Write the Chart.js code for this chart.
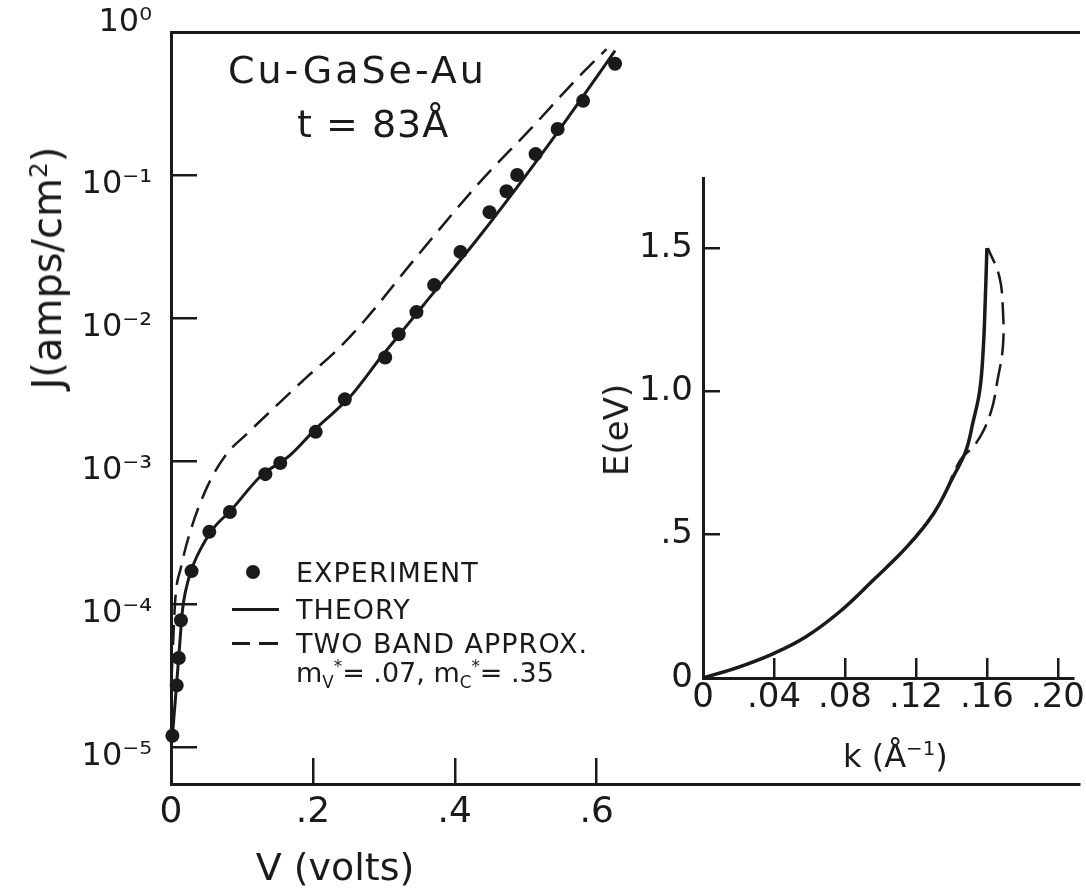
<!DOCTYPE html>
<html>
<head>
<meta charset="utf-8">
<script src="https://cdn.jsdelivr.net/npm/chart.js@4.4.1/dist/chart.umd.min.js"></script>
<style>
  html, body { margin: 0; padding: 0; background: #fff; }
  #wrap { position: relative; width: 1086px; height: 896px; overflow: hidden;
          font-family: 'DejaVu Sans', sans-serif; color: #1a1a1a; }
  #main { position: absolute; left: 0; top: 0; }
  #inset { position: absolute; left: 590px; top: 150px; }
  .txt { position: absolute; white-space: nowrap; line-height: 1; }
  .rot { transform: translate(-50%, -50%) rotate(-90deg); }
  .mark { position: absolute; background: #1a1a1a; }
  sub, sup { font-size: 62%; line-height: 0; }
</style>
</head>
<body>
<div id="wrap">
  <canvas id="main" width="1086" height="896"></canvas>
  <canvas id="inset" width="496" height="650"></canvas>

  <!-- sample annotation -->
  <div class="txt" style="left:228px; top:51px; font-size:38px; letter-spacing:3px;">Cu-GaSe-Au</div>
  <div class="txt" style="left:297px; top:105px; font-size:38px; letter-spacing:1px;">t = 83Å</div>

  <!-- legend -->
  <div class="mark" style="left:246px; top:565px; width:14px; height:14px; border-radius:50%;"></div>
  <div class="txt" style="left:296px; top:559px; font-size:27px; letter-spacing:1px;">EXPERIMENT</div>
  <div class="mark" style="left:232px; top:608px; width:47px; height:3px;"></div>
  <div class="txt" style="left:296px; top:596px; font-size:27px; letter-spacing:1px;">THEORY</div>
  <div class="mark" style="left:232px; top:642px; width:18px; height:2.5px;"></div>
  <div class="mark" style="left:259px; top:642px; width:19px; height:2.5px;"></div>
  <div class="txt" style="left:296px; top:630px; font-size:27px; letter-spacing:1px;">TWO BAND APPROX.</div>
  <div class="txt" style="left:296px; top:659px; font-size:27px;">m<sub>V</sub><sup>*</sup>= .07, m<sub>C</sub><sup>*</sup>= .35</div>

  <!-- axis titles -->
  <div class="txt" style="left:335px; top:848px; font-size:38px; transform:translateX(-50%);">V (volts)</div>
  <div class="txt rot" style="left:47px; top:268px; font-size:40px;">J(amps/cm<sup>2</sup>)</div>
  <div class="txt rot" style="left:616px; top:430px; font-size:34px;">E(eV)</div>
  <div class="txt" style="left:843px; top:740px; font-size:32px;">k (Å<sup>−1</sup>)</div>
</div>

<script>
const INK = '#1a1a1a';
const FONT = "'DejaVu Sans', sans-serif";

// ---- main panel: current density vs voltage ----
const expV = [0.002, 0.008, 0.011, 0.014, 0.029, 0.054, 0.083, 0.133, 0.154, 0.204, 0.245, 0.302,
              0.321, 0.346, 0.371, 0.408, 0.449, 0.473, 0.488, 0.514, 0.545, 0.581, 0.626];
const expJ = [1.2e-5, 2.7e-5, 4.2e-5, 7.7e-5, 1.7e-4, 3.2e-4, 4.4e-4, 8.1e-4, 9.7e-4, 1.6e-3, 2.7e-3, 5.3e-3,
              7.7e-3, 1.1e-2, 1.7e-2, 2.9e-2, 5.5e-2, 7.7e-2, 0.10, 0.14, 0.21, 0.33, 0.60];

const theoryV = [0.002, 0.008, 0.012, 0.016, 0.020, 0.030, 0.045, 0.060, 0.084, 0.126, 0.168,
                 0.205, 0.252, 0.297, 0.326, 0.354, 0.438, 0.531, 0.585, 0.626];
const theoryJ = [1.2e-5, 2.8e-5, 5.0e-5, 8.9e-5, 1.2e-4, 1.8e-4, 2.6e-4, 3.4e-4, 4.5e-4, 7.8e-4, 1.1e-3,
                 1.7e-3, 2.8e-3, 5.4e-3, 8.1e-3, 1.2e-2, 3.9e-2, 0.16, 0.38, 0.74];

const twoBandV = [0.001, 0.006, 0.014, 0.027, 0.051, 0.077, 0.107, 0.149, 0.191, 0.233, 0.272,
                  0.344, 0.437, 0.507, 0.572, 0.614];
const twoBandJ = [3.2e-5, 1.07e-4, 1.8e-4, 3.2e-4, 6.6e-4, 1.1e-3, 1.55e-3, 2.45e-3, 3.85e-3, 5.9e-3, 9.5e-3,
                  2.6e-2, 9.1e-2, 0.21, 0.47, 0.76];

const vTicks = [0, 0.2, 0.4, 0.6];
const vTickLabels = ['0', '.2', '.4', '.6'];
const jTicks = [1e-5, 1e-4, 1e-3, 1e-2, 1e-1, 1];
const jTickLabels = ['10⁻⁵', '10⁻⁴', '10⁻³', '10⁻²', '10⁻¹', '10⁰'];

// ---- inset: E vs k ----
const kTheory = [0, 0.021, 0.040, 0.058, 0.077, 0.096, 0.115, 0.130, 0.141, 0.148, 0.152, 0.156, 0.158, 0.159, 0.160];
const eTheory = [0, 0.04, 0.086, 0.144, 0.231, 0.342, 0.458, 0.574, 0.702, 0.79, 0.888, 1.005, 1.156, 1.307, 1.50];

const kTwoBand = [0, 0.021, 0.040, 0.058, 0.077, 0.094, 0.104, 0.118, 0.1335, 0.145, 0.154, 0.162, 0.166,
                  0.169, 0.169, 0.167, 0.1605];
const eTwoBand = [0, 0.04, 0.086, 0.144, 0.231, 0.33, 0.39, 0.48, 0.61, 0.76, 0.82, 0.923, 1.04,
                  1.156, 1.284, 1.40, 1.50];

const kTicks = [0, 0.04, 0.08, 0.12, 0.16, 0.20];
const kTickLabels = ['0', '.04', '.08', '.12', '.16', '.20'];
const eTicks = [0, 0.5, 1.0, 1.5];
const eTickLabels = ['0', '.5', '1.0', '1.5'];

function pts(xs, ys) {
  return xs.map((x, i) => ({ x: x, y: ys[i] }));
}
function fixedTicks(values) {
  return scale => { scale.ticks = values.map(v => ({ value: v })); };
}
// pin the axis box size and stop edge labels from shrinking the plot area
function pinSize(prop, px) {
  return s => {
    s[prop] = px;
    s.paddingTop = 0; s.paddingBottom = 0;
    s.paddingLeft = 0; s.paddingRight = 0;
  };
}

const common = {
  responsive: false,
  animation: false,
  devicePixelRatio: 1,
  events: [],
  plugins: { legend: { display: false }, tooltip: { enabled: false } }
};

// main chart: plot area left 171, top 32, bottom 784, runs to right edge
new Chart(document.getElementById('main'), {
  type: 'scatter',
  data: {
    datasets: [
      {
        label: 'EXPERIMENT',
        data: pts(expV, expJ),
        pointRadius: 7,
        pointBackgroundColor: INK,
        pointBorderColor: INK,
        pointBorderWidth: 0,
        clip: false
      },
      {
        label: 'THEORY',
        data: pts(theoryV, theoryJ),
        showLine: true,
        borderColor: INK,
        borderWidth: 3,
        pointRadius: 0,
        cubicInterpolationMode: 'monotone',
        clip: false
      },
      {
        label: 'TWO BAND APPROX.',
        data: pts(twoBandV, twoBandJ),
        showLine: true,
        borderColor: INK,
        borderWidth: 2.5,
        borderDash: [20, 10],
        pointRadius: 0,
        cubicInterpolationMode: 'monotone',
        clip: false
      }
    ]
  },
  options: Object.assign({}, common, {
    layout: { padding: 0 },
    scales: {
      x: {
        type: 'linear', position: 'bottom', min: 0, max: 1.28,
        afterFit: pinSize('height', 112),
        afterBuildTicks: fixedTicks(vTicks),
        grid: { display: true, drawOnChartArea: false, tickLength: -26, color: INK, lineWidth: 2.5 },
        border: { display: true, color: INK, width: 3 },
        ticks: {
          autoSkip: false, maxRotation: 0, padding: 33, color: INK,
          font: { family: FONT, size: 36 },
          callback: (v, i) => vTickLabels[i]
        }
      },
      xTop: {
        type: 'linear', position: 'top', min: 0, max: 1.28,
        afterFit: pinSize('height', 32),
        grid: { display: false },
        ticks: { display: false },
        border: { display: true, color: INK, width: 3 }
      },
      y: {
        type: 'logarithmic', position: 'left', min: 5.52e-6, max: 1,
        afterFit: pinSize('width', 171),
        afterBuildTicks: fixedTicks(jTicks),
        grid: { display: true, drawOnChartArea: false, tickLength: -26, color: INK, lineWidth: 2.5 },
        border: { display: true, color: INK, width: 3 },
        ticks: {
          autoSkip: false, padding: 45, labelOffset: 10, color: INK,
          font: { family: FONT, size: 32 },
          // top label sits above the frame
          callback: (v, i) => i === jTicks.length - 1 ? [jTickLabels[i], ''] : jTickLabels[i]
        }
      }
    }
  })
});

// inset chart: plot area (page) left 703, top 178, right 1073, bottom 678
new Chart(document.getElementById('inset'), {
  type: 'scatter',
  data: {
    datasets: [
      {
        label: 'THEORY',
        data: pts(kTheory, eTheory),
        showLine: true,
        borderColor: INK,
        borderWidth: 3.5,
        pointRadius: 0,
        tension: 0.4,
        clip: false
      },
      {
        label: 'TWO BAND APPROX.',
        data: pts(kTwoBand, eTwoBand),
        showLine: true,
        borderColor: INK,
        borderWidth: 2.5,
        borderDash: [22, 9],
        pointRadius: 0,
        tension: 0.4,
        clip: false
      }
    ]
  },
  options: Object.assign({}, common, {
    layout: { padding: { top: 28, right: 13, left: 0, bottom: 0 } },
    scales: {
      x: {
        type: 'linear', position: 'bottom', min: 0, max: 0.2085,
        afterFit: pinSize('height', 122),
        afterBuildTicks: fixedTicks(kTicks),
        grid: { display: true, drawOnChartArea: false, tickLength: -20, color: INK, lineWidth: 2.5 },
        border: { display: true, color: INK, width: 3 },
        ticks: {
          autoSkip: false, maxRotation: 0, padding: 20, color: INK,
          font: { family: FONT, size: 34 },
          callback: (v, i) => kTickLabels[i]
        }
      },
      y: {
        type: 'linear', position: 'left', min: 0, max: 1.744,
        afterFit: pinSize('width', 113),
        afterBuildTicks: fixedTicks(eTicks),
        grid: { display: true, drawOnChartArea: false, tickLength: -17, color: INK, lineWidth: 2.5 },
        border: { display: true, color: INK, width: 3 },
        ticks: {
          autoSkip: false, padding: 27, color: INK,
          font: { family: FONT, size: 34 },
          callback: (v, i) => eTickLabels[i]
        }
      }
    }
  })
});
</script>
</body>
</html>
